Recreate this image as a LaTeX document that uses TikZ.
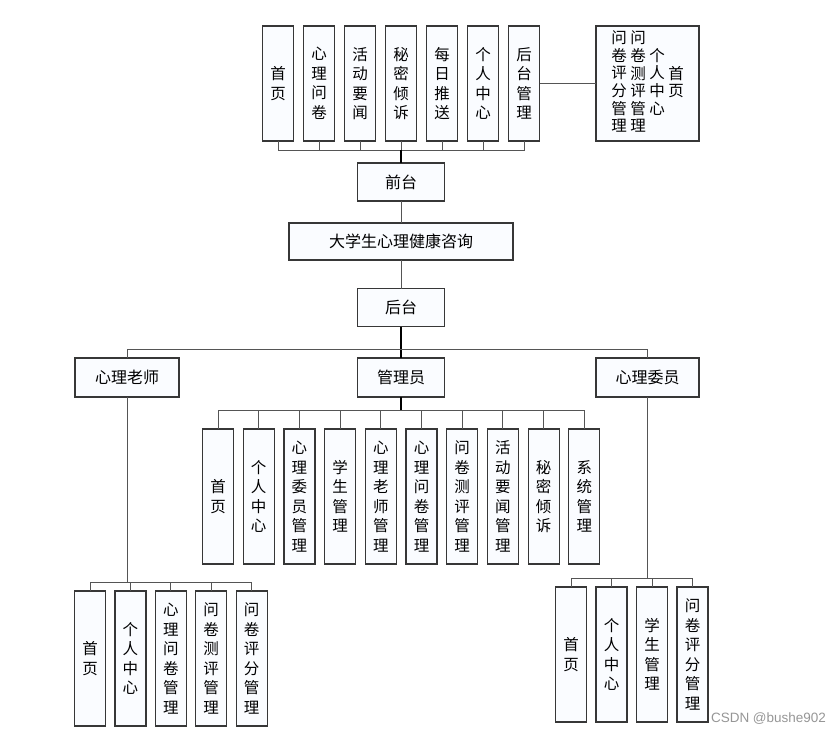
\documentclass[tikz,border=0pt]{standalone}
\usepackage{fontspec}
\usepackage{xcolor}
\newfontfamily\cjk{Noto Sans CJK SC}
\newfontfamily\wmfont{Liberation Sans}
\definecolor{boxfill}{RGB}{250,252,255}
\definecolor{boxline}{RGB}{55,55,55}
\definecolor{linkgray}{RGB}{85,85,85}
\definecolor{wmgray}{RGB}{150,150,150}
\newcommand\vcol[1]{\begin{tabular}[c]{@{}c@{}}#1\end{tabular}}

\begin{document}
\begin{tikzpicture}[x=1pt,y=-1pt,
		every node/.style={font=\cjk\fontsize{16}{19.5}\selectfont},
		hbox/.style={draw=boxline,fill=boxfill,line width=1.2pt,inner sep=0pt,outer sep=0pt,minimum height=38pt},
		vbox/.style={hbox,minimum width=31pt,minimum height=135pt,align=center,font=\cjk\fontsize{15.5}{19.5}\selectfont},
		link/.style={draw=linkgray,line width=0.9pt},
		trunk/.style={draw=black,line width=1.6pt}]
	\useasboundingbox (0,0) rectangle (840,736);

	% front end
	\foreach \lbl [count=\i from 0] in {首\\页,心\\理\\问\\卷,活\\动\\要\\闻,秘\\密\\倾\\诉,每\\日\\推\\送,个\\人\\中\\心,后\\台\\管\\理}
		\node[vbox,minimum height=115pt] (f\i) at (278+41*\i,83.5) {\lbl};
	\node[hbox,minimum width=103pt,minimum height=115pt] (fm) at (647.5,83.5)
		{\fontsize{15.5}{16}\selectfont\vcol{问\\卷\\评\\分\\管\\理}\hspace{3.5pt}\vcol{问\\卷\\测\\评\\管\\理}\hspace{3.5pt}\vcol{个\\人\\中\\心}\hspace{3.5pt}\vcol{首\\页}};
	\draw[link] (f6.east) -- (fm.west);

	\node[hbox,minimum width=87pt] (qt) at (401,182) {前台};
	\node[hbox,minimum width=224pt,minimum height=37pt] (sys) at (401,241.5) {大学生心理健康咨询};
	\node[hbox,minimum width=87pt] (ht) at (401,307.5) {后台};
	\coordinate (fbus) at (401,150);
	\foreach \i in {0,...,6}
		\draw[link] (f\i.south) |- (fbus);
	\draw[trunk] (fbus) -- (qt);
	\draw[link] (qt) -- (sys);
	\draw[link] (sys) -- (ht);

	% back end roles
	\node[hbox,minimum width=104pt,minimum height=39pt] (teacher) at (127,377.5) {心理老师};
	\node[hbox,minimum width=87pt,minimum height=39pt] (admin) at (401,377.5) {管理员};
	\node[hbox,minimum width=103pt,minimum height=39pt] (member) at (647.5,377.5) {心理委员};
	\coordinate (hbus) at (401,349);
	\draw[trunk] (ht) -- (admin);
	\draw[link] (hbus) -| (teacher);
	\draw[link] (hbus) -| (member);

	% admin
	\coordinate (abus) at (401,410);
	\foreach \lbl [count=\i from 0] in {首\\页,个\\人\\中\\心,心\\理\\委\\员\\管\\理,学\\生\\管\\理,心\\理\\老\\师\\管\\理,心\\理\\问\\卷\\管\\理,问\\卷\\测\\评\\管\\理,活\\动\\要\\闻\\管\\理,秘\\密\\倾\\诉,系\\统\\管\\理}
		\node[vbox] (a\i) at (218+40.7*\i,496.5) {\lbl};
	\foreach \i in {0,...,9}
		\draw[link] (a\i.north) |- (abus);
	\draw[trunk] (admin) -- (abus);

	% teacher
	\coordinate (tbus) at (127,582);
	\foreach \lbl [count=\i from 0] in {首\\页,个\\人\\中\\心,心\\理\\问\\卷\\管\\理,问\\卷\\测\\评\\管\\理,问\\卷\\评\\分\\管\\理}
		\node[vbox] (t\i) at (90+40.4*\i,658.5) {\lbl};
	\foreach \i in {0,...,4}
		\draw[link] (t\i.north) |- (tbus);
	\draw[link] (teacher) -- (tbus);

	% member
	\coordinate (mbus) at (647.5,578);
	\foreach \lbl [count=\i from 0] in {首\\页,个\\人\\中\\心,学\\生\\管\\理,问\\卷\\评\\分\\管\\理}
		\node[vbox] (m\i) at (571+40.5*\i,654.5) {\lbl};
	\foreach \i in {0,...,3}
		\draw[link] (m\i.north) |- (mbus);
	\draw[link] (member) -- (mbus);

	\node[font=\wmfont\fontsize{13.5}{16}\selectfont,text=wmgray] (mark) at (768.5,719) {CSDN @bushe902};
\end{tikzpicture}
\end{document}
